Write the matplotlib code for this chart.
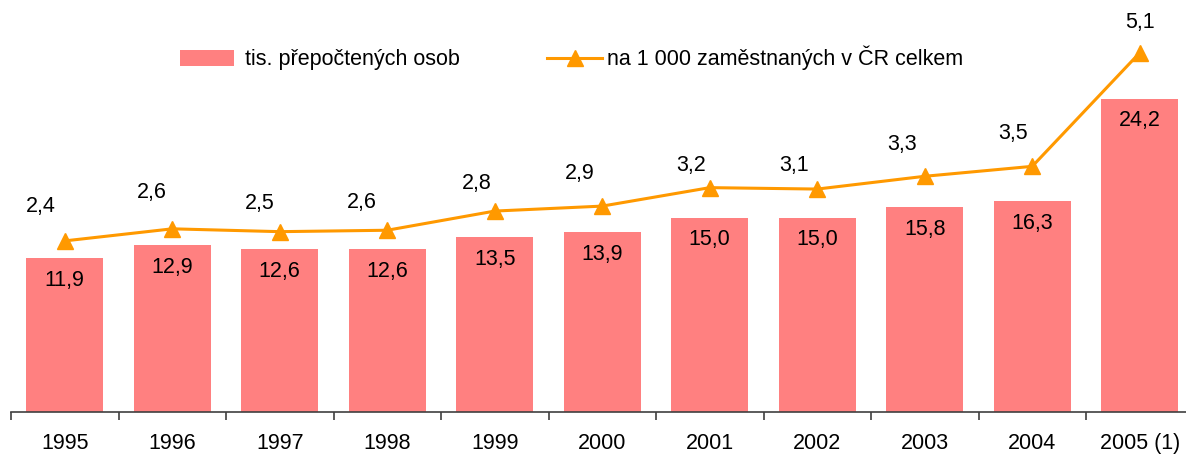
import matplotlib
matplotlib.use("Agg")
import matplotlib.pyplot as plt
import numpy as np
from matplotlib.ticker import FixedLocator, NullFormatter, FixedFormatter

plt.rcParams['font.family'] = ['Liberation Sans', 'DejaVu Sans']

categories = ["1995", "1996", "1997", "1998", "1999", "2000", "2001", "2002", "2003", "2004", "2005 (1)"]
persons = [11.9, 12.9, 12.6, 12.6, 13.5, 13.9, 15.0, 15.0, 15.8, 16.3, 24.2]
per_1000 = [2.41, 2.58, 2.54, 2.56, 2.83, 2.90, 3.16, 3.14, 3.32, 3.46, 5.06]

bar_label = "tis. přepočtených osob"
line_label = "na 1 000 zaměstnaných v ČR celkem"

def fmt(v):
    return f"{v:.1f}".replace(".", ",")

W, H = 1186, 455
FS = 15.5
fig = plt.figure(figsize=(W/100, H/100), dpi=100)
left = 11 / W
right = 1193.5 / W
bottom = 1 - 412 / H
ax = fig.add_axes([left, bottom, right - left, 1 - bottom])

x = np.arange(len(categories))
bar_w = 77 / 107.5
ax.bar(x, persons, width=bar_w, color="#FF8080", label=bar_label, zorder=2)
ax.set_xlim(-0.5, len(categories) - 0.5)
ax.set_ylim(0, 412 / 12.95)
for s in ["top", "left", "right"]:
    ax.spines[s].set_visible(False)
ax.spines["bottom"].set_color("#404040")
ax.spines["bottom"].set_linewidth(1.2)
ax.set_yticks([])
ax.xaxis.set_major_locator(FixedLocator(np.arange(-0.5, len(categories), 1.0)))
ax.xaxis.set_major_formatter(NullFormatter())
ax.xaxis.set_minor_locator(FixedLocator(x))
ax.xaxis.set_minor_formatter(FixedFormatter(categories))
ax.tick_params(axis="x", which="major", direction="out", length=6, width=1.2, color="#404040")
ax.tick_params(axis="x", which="minor", length=0, pad=15, labelsize=FS)

for xi, v in zip(x, persons):
    ax.annotate(fmt(v), (xi, v), xytext=(0, -16), textcoords="offset points",
                ha="center", va="center", fontsize=FS, zorder=5)

ax2 = ax.twinx()
ax2.set_ylim(0, 412 / 71.0)
ax2.set_yticks([])
for s in ["top", "left", "right", "bottom"]:
    ax2.spines[s].set_visible(False)
ax2.plot(x, per_1000, color="#FF9900", lw=2.2, marker="^", markersize=11.5,
         label=line_label, zorder=3, clip_on=False)

# label offsets in pixels (placement only)
dx_px = [-24, -20, -20, -25, -18, -23, -19, -23, -23, -19, 0]
dy_px = [34, 36, 28, 28, 28, 33, 22, 24, 32, 33, 30]
for xi, v, ddx, ddy in zip(x, per_1000, dx_px, dy_px):
    ax2.annotate(fmt(v), (xi, v), xytext=(ddx * 0.72, ddy * 0.72), textcoords="offset points",
                 ha="center", va="center", fontsize=FS, annotation_clip=False)

h1, l1 = ax.get_legend_handles_labels()
h2, l2 = ax2.get_legend_handles_labels()
em = FS * 100 / 72
fig.legend(h1, l1, frameon=False, fontsize=FS, loc="center left",
           bbox_to_anchor=(180 / W, 1 - 60 / H), borderpad=0, borderaxespad=0,
           handlelength=54 / em, handletextpad=11 / em)
fig.legend(h2, l2, frameon=False, fontsize=FS, loc="center left",
           bbox_to_anchor=(547 / W, 1 - 58 / H), borderpad=0, borderaxespad=0,
           handlelength=55 / em, handletextpad=5 / em)

fig.savefig("out.png", dpi=100)
